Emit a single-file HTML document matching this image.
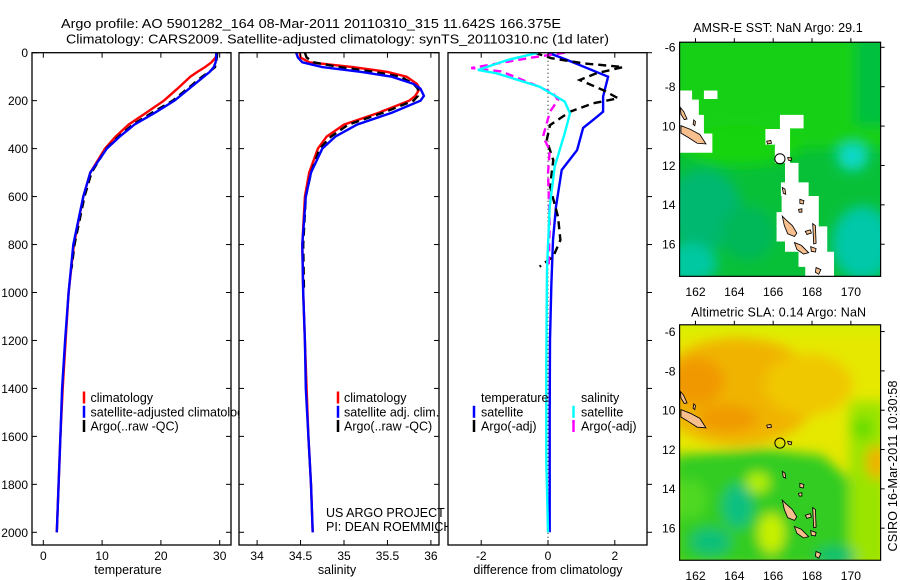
<!DOCTYPE html>
<html><head><meta charset="utf-8"><style>
html,body{margin:0;padding:0;background:#fff}
svg{display:block;font-family:"Liberation Sans",sans-serif}
</style></head><body>
<svg id="fig" width="900" height="580" viewBox="0 0 900 580" xmlns="http://www.w3.org/2000/svg">
<defs>
<clipPath id="c1"><rect x="32" y="52.7" width="199" height="492.3"/></clipPath>
<clipPath id="c2"><rect x="239" y="52.7" width="200" height="492.3"/></clipPath>
<clipPath id="c3"><rect x="448" y="52.7" width="199" height="492.3"/></clipPath>
<clipPath id="cm1"><rect x="58" y="125" width="595" height="693"/></clipPath>
<clipPath id="cm2"><rect x="58" y="103" width="595" height="697"/></clipPath>
<filter id="bl" x="-50%" y="-50%" width="200%" height="200%"><feGaussianBlur stdDeviation="18"/></filter>
</defs>
<text x="61" y="28" font-size="13" textLength="500" lengthAdjust="spacingAndGlyphs">Argo profile: AO 5901282_164 08-Mar-2011 20110310_315 11.642S 166.375E</text>
<text x="66" y="43.5" font-size="13" textLength="543" lengthAdjust="spacingAndGlyphs">Climatology: CARS2009. Satellite-adjusted climatology: synTS_20110310.nc (1d later)</text>
<g id="g"></g>
</svg>
<script>
// ---- data (depth in dbar) ----
const depthsT = [0,20,40,60,80,100,150,200,250,300,350,400,500,600,800,1000,1200,1400,1600,1800,2000];
const tempClim = [29.5,29.3,28.6,27.5,26.2,25.0,22.8,20.5,17.5,14.5,12.3,10.5,8.0,6.8,5.2,4.3,3.8,3.3,2.9,2.6,2.3];
const tempSat  = [29.4,29.4,29.3,29.0,28.3,27.3,24.8,22.3,19.0,15.5,13.0,10.8,8.0,6.8,5.1,4.3,3.7,3.2,2.9,2.6,2.3];
const depthsArgo = [0,20,40,60,80,100,150,200,250,300,350,400,500,600,800,900];
const tempArgo = [29.6,29.5,29.4,29.2,28.2,27.0,24.5,22.0,18.5,15.2,12.8,10.7,8.2,7.0,5.3,4.8];
const depthsS = [0,20,40,60,80,100,130,150,180,200,250,300,350,400,500,600,800,1000,1200,1400,1600,1800,2000];
const salClim = [34.49,34.50,34.60,35.10,35.50,35.72,35.84,35.87,35.82,35.75,35.40,35.00,34.80,34.70,34.60,34.55,34.52,34.53,34.55,34.57,34.59,34.62,34.64];
const salSat  = [34.45,34.47,34.52,34.75,35.20,35.55,35.80,35.88,35.92,35.88,35.55,35.15,34.90,34.75,34.62,34.56,34.52,34.53,34.55,34.56,34.59,34.62,34.64];
const salArgo = [34.55,34.57,34.65,34.95,35.35,35.65,35.80,35.85,35.85,35.80,35.45,35.05,34.85,34.72,34.62,34.56,34.53,34.54];
const depthsDT = [0,30,86,100,183,246,267,314,406,489,642,781,975,1200,1500,1800,2000];
const dTempSat = [0,0.57,1.55,1.8,1.65,1.65,1.47,1.05,0.87,0.41,0.24,0.15,0.1,0.06,0.05,0.05,0.05];
const depthsDS = [0,30,72,86,142,204,253,336,475,642,900,1300,1700,2000];
const dSalSat  = [-0.3,-1.2,-2.1,-1.54,-0.24,0.5,0.66,0.5,0.2,0.05,-0.03,-0.05,-0.05,0];
const depthsDTA = [0,23,44,60,86,114,156,190,211,246,302,365,448,559,684,781,850,892];
const dTempArgo = [-0.4,0.1,1.05,2.25,1.45,0.95,1.65,2.1,1.35,0.66,0.06,-0.04,0.16,0.06,0.3,0.37,0.16,-0.25];
const depthsDSA = [0,23,64,78,106,133,169,197,246,350,406,502,711,900];
const dSalArgo  = [0.5,-0.6,-2.3,-1.4,-0.9,-0.42,0.15,0.3,0.06,-0.15,0.05,0,0.05,0.02];
const depthTicks = [0,200,400,600,800,1000,1200,1400,1600,1800,2000];
const tempTicks = [0,10,20,30];
const salTicks = [34,34.5,35,35.5,36];
const salTickLabels = ["34","34.5","35","35.5","36"];
const diffTicks = [-2,0,2];
const lonTicks = [162,164,166,168,170];
const latTicks = [-6,-8,-10,-12,-14,-16];
const latTickLabels = ["-6","-8","10","12","14","16"];

const NS="http://www.w3.org/2000/svg";
const G=document.getElementById('g');
function mk(tag,attrs,parent){const e=document.createElementNS(NS,tag);for(const k in attrs)e.setAttribute(k,attrs[k]);(parent||G).appendChild(e);return e;}
const Y=d=>52.7+d*0.2398;
const X1=t=>43.3+t*5.88;
const X2=s=>257.1+(s-34)*86.9;
const X3=v=>548+v*33.4;
const P=[{x0:32,x1:231},{x0:239,x1:439},{x0:448,x1:647}];
const TOP=52.7,BOT=545;

function line(xs,ys,X,color,dash,clip,name,w){
  const pts=xs.map((v,i)=>X(v).toFixed(1)+','+Y(ys[i]).toFixed(1)).join(' ');
  const e=mk('polyline',{points:pts,fill:'none',stroke:color,'stroke-width':w||2.4,'clip-path':'url(#'+clip+')'});
  if(dash)e.setAttribute('stroke-dasharray',dash);
  
  
  return e;
}
function txt(x,y,s,size,anchor,parent){const t=mk('text',{x:x,y:y,'font-size':size||12,'text-anchor':anchor||'start'},parent);t.textContent=s;return t;}
function frame(i,name){
  const p=P[i];
  const r=mk('rect',{x:p.x0,y:TOP,width:p.x1-p.x0,height:BOT-TOP,fill:'#fff',stroke:'none'});
  
  
}
function border(i){const p=P[i];mk('rect',{x:p.x0,y:TOP,width:p.x1-p.x0,height:BOT-TOP,fill:'none',stroke:'#000','stroke-width':1.3});}
function xticks(i,ticks,labels,X,axisName){
  const g=mk('g',{});
  
  
  ticks.forEach((t,k)=>{const x=X(t);
    mk('line',{x1:x,x2:x,y1:BOT,y2:BOT-5,stroke:'#000'},g);
    mk('line',{x1:x,x2:x,y1:TOP,y2:TOP+5,stroke:'#000'},g);
    const l=txt(x,560,labels[k],12,'middle',g);
    
    
  });
}
function yticks(i,labels){
  const p=P[i];
  depthTicks.forEach(d=>{const y=Y(d);
    mk('line',{x1:p.x0,x2:p.x0+5,y1:y,y2:y,stroke:'#000'});
    mk('line',{x1:p.x1,x2:p.x1-5,y1:y,y2:y,stroke:'#000'});
    if(labels){const l=txt(28,y+4.5,String(d),12,'end');
      
      }
  });
}
function legendItem(mx,tx,y,color,label,name){
  const g=mk('g',{});
  
  
  mk('line',{x1:mx,x2:mx,y1:y-6,y2:y+6,stroke:color,'stroke-width':2.5},g);
  txt(tx,y+4.5,label,12.5,'start',g);
}

// Panel 1: temperature
frame(0,'temperature-panel');
line(tempClim,depthsT,X1,'#f00',null,'c1','climatology-temp-line');
line(tempArgo,depthsArgo,X1,'#000','8,5','c1','argo-temp-line');
line(tempSat,depthsT,X1,'#00f',null,'c1','satellite-temp-line');
xticks(0,tempTicks,tempTicks.map(String),X1,'temperature-x-axis');
yticks(0,true);
border(0);
legendItem(84,90.5,397.5,'#f00','climatology','legend-climatology');
legendItem(84,90.5,411.8,'#00f','satellite-adjusted climatology','legend-satellite-adjusted');
legendItem(84,90.5,426,'#000','Argo(..raw -QC)','legend-argo');
let t=txt(128,574,'temperature',12.5,'middle');

// Panel 2: salinity
frame(1,'salinity-panel');
line(salClim,depthsS,X2,'#f00',null,'c2','climatology-salinity-line');
line(salArgo,depthsS.slice(0,salArgo.length),X2,'#000','8,5','c2','argo-salinity-line');
line(salSat,depthsS,X2,'#00f',null,'c2','satellite-salinity-line');
xticks(1,salTicks,salTickLabels,X2,'salinity-x-axis');
yticks(1,false);
border(1);
legendItem(338,344,397.5,'#f00','climatology','legend-climatology-2');
legendItem(338,344,411.8,'#00f','satellite adj. clim.','legend-satellite-2');
legendItem(338,344,426,'#000','Argo(..raw -QC)','legend-argo-2');
t=txt(326,517,'US ARGO PROJECT',12.5);
t=txt(326,531,'PI: DEAN ROEMMICH',12.5);
t=txt(337,574,'salinity',12.5,'middle');

// Panel 3: differences
frame(2,'difference-panel');
mk('line',{x1:X3(0),x2:X3(0),y1:TOP,y2:BOT,stroke:'#000','stroke-width':1,'stroke-dasharray':'1,3'});
line(dTempSat,depthsDT,X3,'#00f',null,'c3','temp-satellite-diff-line');
line(dTempArgo,depthsDTA,X3,'#000','8,5','c3','temp-argo-diff-line');
line(dSalArgo,depthsDSA,X3,'#f0f','8,5','c3','salinity-argo-diff-line');
line(dSalSat,depthsDS,X3,'#0ff',null,'c3','salinity-satellite-diff-line');
xticks(2,diffTicks,diffTicks.map(v=>v<0?'-'+Math.abs(v):String(v)),X3,'difference-x-axis');
depthTicks.forEach(d=>{const y=Y(d);mk('line',{x1:647,x2:652,y1:y,y2:y,stroke:'#000'});});
border(2);
t=txt(481,402,'temperature',12.5);
t=txt(581,402,'salinity',12.5);
legendItem(474,481,411.8,'#00f','satellite','legend-temp-satellite');
legendItem(474,481,426,'#000','Argo(-adj)','legend-temp-argo');
legendItem(573.5,581,411.8,'#0ff','satellite','legend-sal-satellite');
legendItem(573.5,581,426,'#f0f','Argo(-adj)','legend-sal-argo');
t=txt(548,574,'difference from climatology',12.5,'middle');

// ---- Maps (drawn in zoom coordinates, scale 1/2.96) ----
const S=2.96;
function islands(g,dy){
  const polys=[
    "62,372 90,383 118,398 136,426 110,424 82,406 62,394",
    "60,318 70,330 80,352 72,354 62,338",
    "100,355 105,360 103,372 98,368",
    "362,640 372,650 392,668 405,690 398,700 378,692 368,668",
    "398,718 418,726 440,748 425,752 405,738",
    "430,685 445,680 448,690 435,694",
    "452,662 460,668 462,720 455,722",
    "446,730 462,736 460,746 448,744",
    "462,792 476,798 470,812 460,806",
    "316,418 328,416 330,424 318,426",
    "378,466 390,468 388,476 380,474",
    "414,590 426,594 424,604 414,602",
    "410,620 420,618 420,628 412,628",
    "362,555 370,560 372,575 365,572"
  ];
  polys.forEach(p=>{const e=mk('polygon',{points:p,fill:'#f7bf8e',stroke:'#000','stroke-width':2.5,transform:'translate(0,'+dy+')'},g);
    
    });
}
function mapAxes(g,y0,y1,latYs,name){
  const ax=mk('g',{},g);
  
  
  mk('rect',{x:58,y:y0,width:595,height:y1-y0,fill:'none',stroke:'#000','stroke-width':3.5},ax);
  lonTicks.forEach(l=>{const x=105+(l-162)*(565-105)/8;
    mk('line',{x1:x,x2:x,y1:y0,y2:y0-12,stroke:'#000','stroke-width':3},ax);
    const tl=txt(x,y1+58,String(l),36,'middle',ax);
    
    
  });
  latTicks.forEach((l,k)=>{const y=latYs[0]+(Math.abs(l)-6)*(latYs[1]-latYs[0])/10;
    mk('line',{x1:653,x2:665,y1:y,y2:y,stroke:'#000','stroke-width':3},ax);
    const tl=txt(46,y+13,latTickLabels[k],36,'end',ax);
    
    
  });
}
// Map 1: SST
const m1=mk('g',{transform:'translate(660,0) scale('+(1/S)+')'});


const m1c=mk('g',{'clip-path':'url(#cm1)'},m1);
mk('rect',{x:58,y:125,width:595,height:693,fill:'#08c038'},m1c);
const b1=mk('g',{filter:'url(#bl)'},m1c);
mk('rect',{x:40,y:110,width:640,height:330,fill:'#14d014'},b1);
mk('ellipse',{cx:240,cy:430,rx:180,ry:60,fill:'#18d410'},b1);
mk('rect',{x:580,y:110,width:90,height:260,fill:'#06c040'},b1);
mk('ellipse',{cx:130,cy:620,rx:110,ry:120,fill:'#00b870'},b1);
mk('ellipse',{cx:90,cy:780,rx:80,ry:60,fill:'#00c8a0'},b1);
mk('ellipse',{cx:600,cy:720,rx:90,ry:110,fill:'#00c8a8'},b1);
mk('ellipse',{cx:570,cy:465,rx:45,ry:40,fill:'#10d8c8'},b1);
mk('ellipse',{cx:260,cy:690,rx:80,ry:80,fill:'#00b858'},b1);
const mask=mk('g',{fill:'#fff'},m1c);


mk('polygon',{points:"58,268 95,268 95,295 115,295 115,340 130,340 130,395 155,395 155,452 58,452"},mask);
mk('rect',{x:130,y:268,width:40,height:25},mask);
mk('polygon',{points:"355,340 425,340 425,380 385,380 385,482 410,482 410,540 440,540 440,580 470,580 470,670 495,670 495,745 515,745 515,818 430,818 430,790 410,790 410,745 370,745 370,715 345,715 345,628 360,628 360,580 358,580 358,540 370,540 370,482 340,482 340,428 312,428 312,382 355,382"},mask);
islands(m1c,0);
let c=mk('circle',{cx:355,cy:470,r:15,fill:'none',stroke:'#000','stroke-width':3},m1c);


mapAxes(m1,125,818,[140,723],'sst-map-axes');
t=txt(349,95,'AMSR-E SST: NaN Argo: 29.1',37,'middle',m1);t.setAttribute('textLength','502');

// Map 2: SLA
const m2=mk('g',{transform:'translate(660,290) scale('+(1/S)+')'});


const m2c=mk('g',{'clip-path':'url(#cm2)'},m2);
mk('rect',{x:58,y:103,width:595,height:697,fill:'#e6e800'},m2c);
const b2=mk('g',{filter:'url(#bl)'},m2c);
mk('ellipse',{cx:230,cy:300,rx:240,ry:160,fill:'#f0b400'},b2);
mk('ellipse',{cx:440,cy:280,rx:130,ry:90,fill:'#f0c800'},b2);
mk('ellipse',{cx:110,cy:270,rx:80,ry:70,fill:'#f09800'},b2);
mk('ellipse',{cx:200,cy:380,rx:90,ry:40,fill:'#f09a00'},b2);
mk('rect',{x:40,y:90,width:640,height:40,fill:'#d8f000'},b2);
mk('polygon',{points:"40,490 300,470 480,490 560,560 570,820 40,820",fill:'#30cc20'},b2);
mk('rect',{x:560,y:330,width:110,height:490,fill:'#9ae400'},b2);
mk('ellipse',{cx:640,cy:510,rx:30,ry:50,fill:'#f0b000'},b2);
mk('ellipse',{cx:600,cy:410,rx:30,ry:30,fill:'#60dc00'},b2);
mk('ellipse',{cx:230,cy:640,rx:45,ry:65,fill:'#10c080'},b2);
mk('ellipse',{cx:150,cy:745,rx:60,ry:40,fill:'#10c078'},b2);
mk('ellipse',{cx:520,cy:790,rx:60,ry:30,fill:'#10c070'},b2);
mk('ellipse',{cx:330,cy:720,rx:40,ry:60,fill:'#c8f000'},b2);
mk('ellipse',{cx:290,cy:570,rx:35,ry:30,fill:'#b8f000'},b2);
mk('ellipse',{cx:90,cy:620,rx:50,ry:60,fill:'#50d820'},b2);
islands(m2c,-18);
c=mk('circle',{cx:355,cy:453,r:15,fill:'none',stroke:'#000','stroke-width':3},m2c);


mapAxes(m2,103,800,[123,705],'sla-map-axes');
t=txt(351,78,'Altimetric SLA: 0.14 Argo: NaN',37,'middle',m2);t.setAttribute('textLength','518');

t=mk('text',{x:0,y:0,'font-size':12.5,'text-anchor':'middle',transform:'translate(897,466) rotate(-90)',textLength:171});
t.textContent='CSIRO 16-Mar-2011 10:30:58';


</script>
</body></html>
